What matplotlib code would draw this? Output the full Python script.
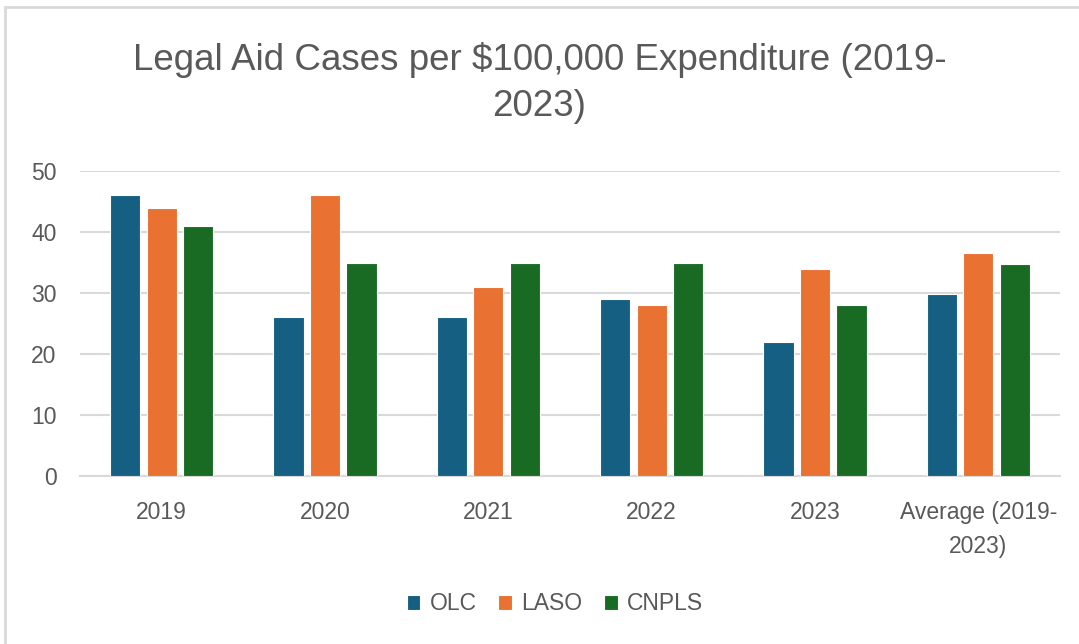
import matplotlib
matplotlib.use("Agg")
import matplotlib.pyplot as plt
import matplotlib.patches as patches
import numpy as np

# datos
categories = ["2019", "2020", "2021", "2022", "2023", "Average (2019-\n2023)"]
olc = [46, 26, 26, 29, 22, 29.8]
laso = [44, 46, 31, 28, 34, 36.6]
cnpls = [41, 35, 35, 35, 28, 34.8]
series_names = ["OLC", "LASO", "CNPLS"]
colors = ["#156082", "#E97132", "#196B24"]

plt.rcParams['font.family'] = ['Liberation Sans', 'DejaVu Sans']
txt = "#595959"

fig = plt.figure(figsize=(10.79, 6.44), dpi=100)
ax = fig.add_axes([80/1079, 1 - 476/644, 980/1079, 305/644])

# marco del grafico
border = patches.Rectangle((5/1079, -0.1), 1.2, 1 - 7/644 + 0.1, transform=fig.transFigure,
                           fill=False, edgecolor="#d9d9d9", linewidth=2, clip_on=False)
fig.patches.append(border)

x = np.arange(len(categories))
w = 0.185
step = 0.224
for i, (vals, name, c) in enumerate(zip([olc, laso, cnpls], series_names, colors)):
    ax.bar(x + (i - 1) * step, vals, width=w, color=c, edgecolor="white",
           linewidth=0.8, label=name, zorder=3)

ax.set_xlim(-0.5, len(categories) - 0.5)
ax.set_ylim(0, 50)
ax.set_yticks(range(0, 51, 10))
ax.yaxis.grid(True, color="#d9d9d9", linewidth=1.5, zorder=0)
ax.set_xticks(x)
ax.set_xticklabels(categories, fontsize=16.5, color=txt, linespacing=1.6)
ax.tick_params(axis="y", labelsize=16.5, labelcolor=txt, length=0, pad=17)
ax.tick_params(axis="x", length=0, pad=18)
for s in ["top", "right", "left"]:
    ax.spines[s].set_visible(False)
ax.spines["bottom"].set_color("#d9d9d9")
ax.spines["bottom"].set_linewidth(1.5)

fig.text(0.5, 1 - 83/644, "Legal Aid Cases per $100,000 Expenditure (2019-\n2023)",
         ha="center", va="center", fontsize=26.5, color=txt, linespacing=1.4)

fig.legend(loc="center", bbox_to_anchor=(555/1079, 1 - 604/644), ncol=3, frameon=False,
           fontsize=16.5, labelcolor=txt, handlelength=0.6, handleheight=0.6,
           handletextpad=0.4, columnspacing=0.95)

fig.savefig("out.png", dpi=100, facecolor="white")
